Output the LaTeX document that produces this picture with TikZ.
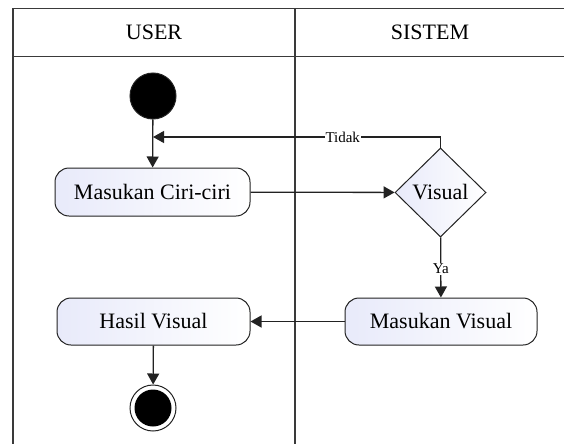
\documentclass[tikz,border=0pt]{standalone}
\usepackage{fontspec}
\setmainfont{Liberation Serif}
\usetikzlibrary{arrows.meta,shapes.geometric}

\definecolor{lane}{HTML}{3A3A3A}
\definecolor{ink}{HTML}{222222}
\definecolor{tint}{RGB}{232,234,250}

\tikzset{
  laneline/.style={draw=lane, line width=1.4pt},
  action/.style={draw=ink, line width=1pt, rounded corners=14pt,
    left color=tint, right color=white, inner sep=0pt,
    font=\fontsize{22}{25}\selectfont},
  decision/.style={diamond, draw=ink, line width=1pt, aspect=1,
    left color=tint, right color=white, inner sep=0pt,
    minimum width=91pt, minimum height=89pt,
    font=\fontsize{22}{25}\selectfont},
  flow/.style={draw=ink, line width=1.3pt,
    -{Triangle[length=11pt,width=12pt]}},
  guard/.style={fill=white, inner sep=1pt, font=\fontsize{15}{17}\selectfont},
  lanetitle/.style={font=\fontsize{22}{25}\selectfont}
}

\begin{document}
\begin{tikzpicture}[x=1pt,y=-1pt]
  \useasboundingbox (0,0) rectangle (564,444);

  % swimlane frame
  \draw[laneline] (564,8.5) -- (13,8.5) -- (13,444);
  \draw[laneline] (13,56.5) -- (564,56.5);
  \draw[laneline] (295,8.5) -- (295,444);
  \node[lanetitle] (tuser) at (154,32) {USER};
  \node[lanetitle] (tsys) at (430,32) {SISTEM};

  % nodes
  \node[circle, fill=black, draw=ink, line width=1pt, minimum size=46pt, inner sep=0pt] (start) at (153,96) {};
  \node[action, minimum width=195pt, minimum height=48pt] (ciri) at (152.5,192) {Masukan Ciri-ciri};
  \node[decision] (vis) at (440.5,192.5) {Visual};
  \node[action, minimum width=192pt, minimum height=47pt] (mvis) at (441,321.5) {Masukan Visual};
  \node[action, minimum width=193pt, minimum height=47pt] (hasil) at (153.5,321.5) {Hasil Visual};
  \node[circle, draw=ink, line width=1pt, fill=white, minimum size=46pt, inner sep=0pt] (stop) at (153,408) {};
  \node[circle, fill=black, minimum size=37pt, inner sep=0pt] (stopdot) at (stop.center) {};

  \coordinate (bend) at (440.5,137);
  \coordinate (join) at (153,137);

  % flows
  \draw[flow] (start) -- (ciri);
  \draw[flow] (ciri) -- (vis);
  \draw[flow] (vis.north) -- (bend) -- node[guard, pos=0.34] (tidak) {Tidak} (join);
  \draw[flow] (vis) -- node[guard, pos=0.52] (ya) {Ya} (mvis);
  \draw[flow] (mvis) -- (hasil);
  \draw[flow] (hasil) -- (stop);
\end{tikzpicture}
\end{document}
